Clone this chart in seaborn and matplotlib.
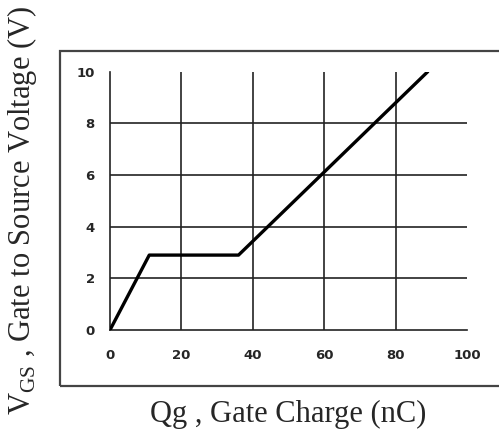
import numpy as np
import pandas as pd
import matplotlib
matplotlib.use("Agg")
import matplotlib.pyplot as plt
import seaborn as sns
from matplotlib.patches import Rectangle

# gate charge curve
qg = [0, 11, 36, 89]
vgs = [0, 2.9, 2.9, 10]
x_ticks = [0, 20, 40, 60, 80, 100]
y_ticks = [0, 2, 4, 6, 8, 10]

sns.set_style("white")
plt.rcParams["mathtext.fontset"] = "custom"
plt.rcParams["mathtext.rm"] = "Liberation Serif"

df = pd.DataFrame({"Qg": qg, "VGS": vgs})

fig = plt.figure(figsize=(4.99, 4.36), dpi=100)
ax = fig.add_axes([0.2204, 0.2431, 0.7155, 0.5925])

# grid lines only inside, drawn by hand per the datasheet style
ax.set_xlim(0, 100)
ax.set_ylim(0, 10)
for x in x_ticks[1:-1]:
    ax.axvline(x, color="#222222", lw=1.2, zorder=1)
for y in y_ticks[1:-1]:
    ax.axhline(y, color="#222222", lw=1.2, zorder=1)

sns.lineplot(data=df, x="Qg", y="VGS", sort=False, color="black", lw=2.4, ax=ax, zorder=3)

ax.set_xticks(x_ticks)
ax.set_yticks(y_ticks)
ax.set_xticklabels([str(v) for v in x_ticks], fontsize=9.5, fontweight="bold")
ax.set_yticklabels([str(v) for v in y_ticks], fontsize=9.5, fontweight="bold")
ax.tick_params(axis="x", direction="in", length=3, width=1.2, pad=14)
ax.tick_params(axis="y", direction="out", length=4, width=1.2, pad=7)
ax.set_xlabel("")
ax.set_ylabel("")

for s in ["top", "right"]:
    ax.spines[s].set_visible(False)
for s in ["left", "bottom"]:
    ax.spines[s].set_color("#222222")
    ax.spines[s].set_linewidth(1.2)

# outer frame
fig.patches.append(Rectangle((60 / 499, 1 - 386 / 436), 0.95, (386 - 51.5) / 436,
                             transform=fig.transFigure, fill=False,
                             edgecolor="#444444", lw=1.6))

fig.text(288 / 499, 1 - 414 / 436, "Qg , Gate Charge (nC)", family="Liberation Serif",
         fontsize=22, ha="center", va="center")
fig.text(22 / 499, 1 - 210 / 436, r"V$_{\mathrm{GS}}$ , Gate to Source Voltage (V)",
         family="Liberation Serif", fontsize=22, rotation=90, ha="center", va="center")

fig.savefig("out.png", dpi=100)
